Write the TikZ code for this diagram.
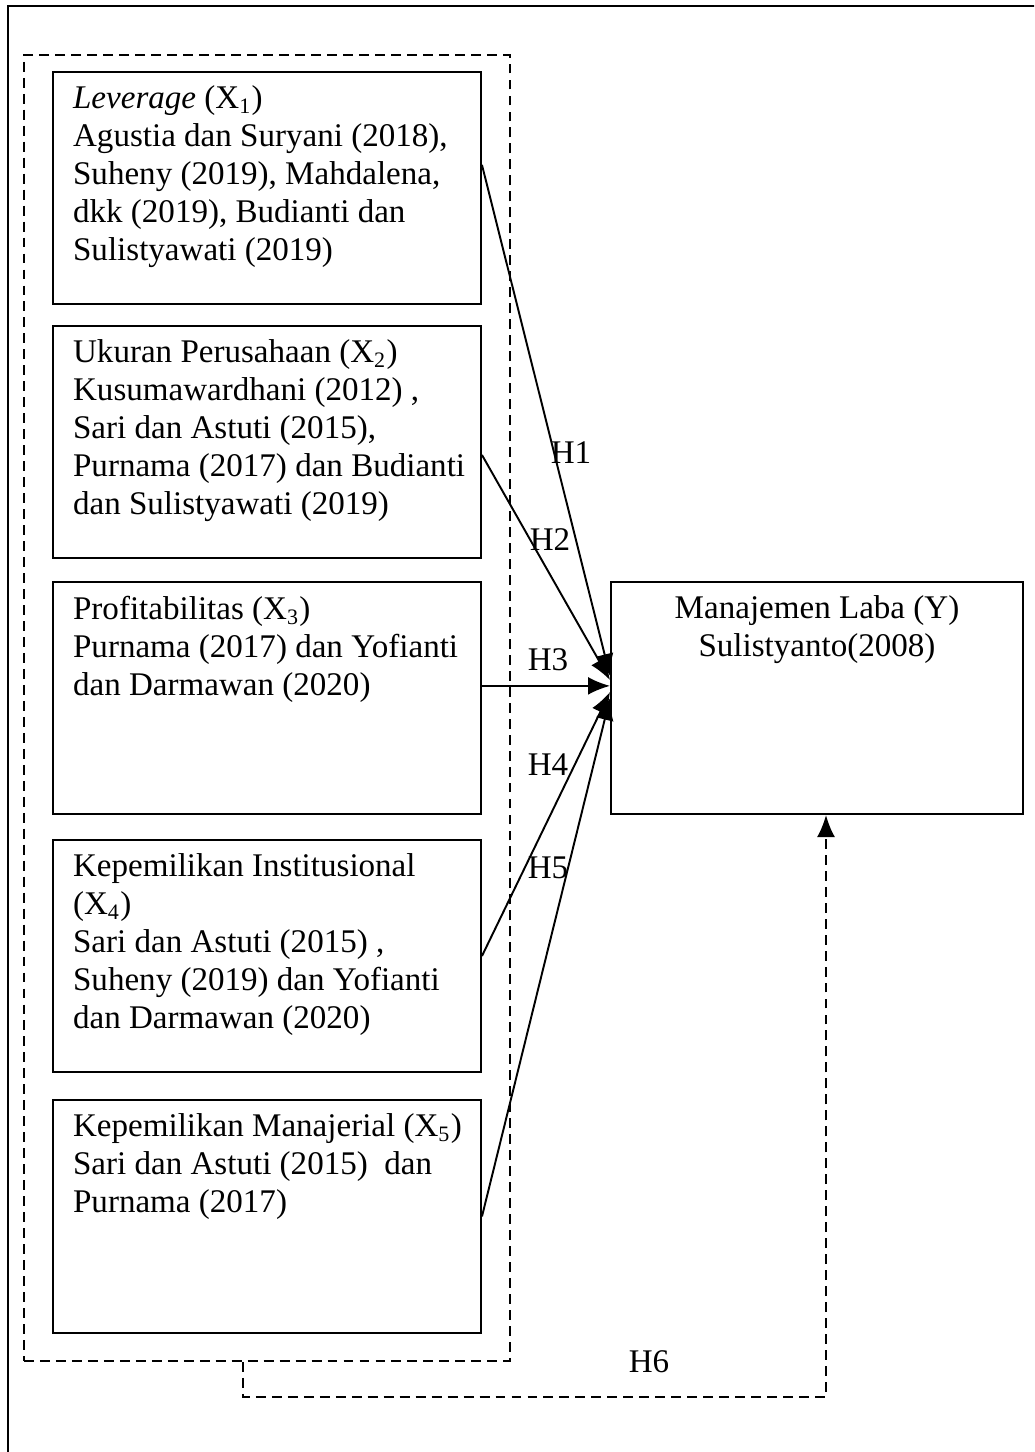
\documentclass[tikz,border=0pt]{standalone}
\usepackage{fontspec}
\setmainfont{Liberation Serif}
\usetikzlibrary{arrows.meta,fit}
\begin{document}
\begin{tikzpicture}[x=0.363pt, y=-0.363pt, font=\fontsize{12}{13.8}\selectfont,
      line width=0.7pt, >={Latex[length=8pt,width=6.5pt]},
      varbox/.style={draw, inner sep=0pt},
      vartext/.style={anchor=north west, align=left, inner xsep=7.3pt, inner ysep=5pt},
      grpbox/.style={draw, dash pattern=on 3.6pt off 2.2pt, inner sep=0pt},
      hypo/.style={inner sep=1pt},
      dashline/.style={dash pattern=on 3.6pt off 2.2pt}]
    \useasboundingbox (0,0) rectangle (1034,1452);
    \clip (0,0) rectangle (1034,1452);
    \draw (8,6) rectangle (1100,1520);
    % dashed frame round the independent variables
    \node[grpbox, fit={(24,55) (510,1361)}] (grp) {};
    \node[varbox, fit={(53,72) (481,304)}] (x1) {};
    \node[varbox, fit={(53,326) (481,558)}] (x2) {};
    \node[varbox, fit={(53,582) (481,814)}] (x3) {};
    \node[varbox, fit={(53,840) (481,1072)}] (x4) {};
    \node[varbox, fit={(53,1100) (481,1333)}] (x5) {};
    \node[varbox, fit={(611,582) (1023,814)}] (y) {};
    \node[vartext] (t1) at (x1.north west) {\textit{Leverage} (X\textsubscript{1})\\ Agustia dan Suryani (2018),\\ Suheny (2019), Mahdalena,\\ dkk (2019), Budianti dan\\ Sulistyawati (2019)};
    \node[vartext] (t2) at (x2.north west) {Ukuran Perusahaan (X\textsubscript{2})\\ Kusumawardhani (2012) ,\\ Sari dan Astuti (2015),\\ Purnama (2017) dan Budianti\\ dan Sulistyawati (2019)};
    \node[vartext] (t3) at (x3.north west) {Profitabilitas (X\textsubscript{3})\\ Purnama (2017) dan Yofianti\\ dan Darmawan (2020)};
    \node[vartext] (t4) at (x4.north west) {Kepemilikan Institusional\\ (X\textsubscript{4})\\ Sari dan Astuti (2015) ,\\ Suheny (2019) dan Yofianti\\ dan Darmawan (2020)};
    \node[vartext] (t5) at (x5.north west) {Kepemilikan Manajerial (X\textsubscript{5})\\ Sari dan Astuti (2015)\ \ dan\\ Purnama (2017)};
    \node[anchor=north, align=center, inner ysep=5pt] (ty) at (y.north) {Manajemen Laba (Y)\\ Sulistyanto(2008)};
    % hypotheses
    \draw[->] ([yshift=8.4pt]x1.east) -- ([yshift=8pt]y.west);
    \draw[->] ([yshift=-4.7pt]x2.east) -- ([yshift=6.5pt]y.west);
    \draw[->] ([yshift=4.4pt]x3.east) -- ([yshift=4.4pt]y.west);
    \draw[->] (x4.east) -- ([yshift=2.2pt]y.west);
    \draw[->] (x5.east) -- ([yshift=0pt]y.west);
    \node[hypo] (h1) at (571,453) {H1};
    \node[hypo] (h2) at (550,540) {H2};
    \node[hypo] (h3) at (548,660) {H3};
    \node[hypo] (h4) at (548,765) {H4};
    \node[hypo] (h5) at (548,868) {H5};
    \node[hypo] (h6) at (649,1362) {H6};
    \coordinate (c1) at (243,1397);
    \coordinate (c2) at (826,1397);
    \draw[dashline, ->] (grp.south -| c1) -- (c1) -- (c2) -- (y.south -| c2);
  \end{tikzpicture}
\end{document}
